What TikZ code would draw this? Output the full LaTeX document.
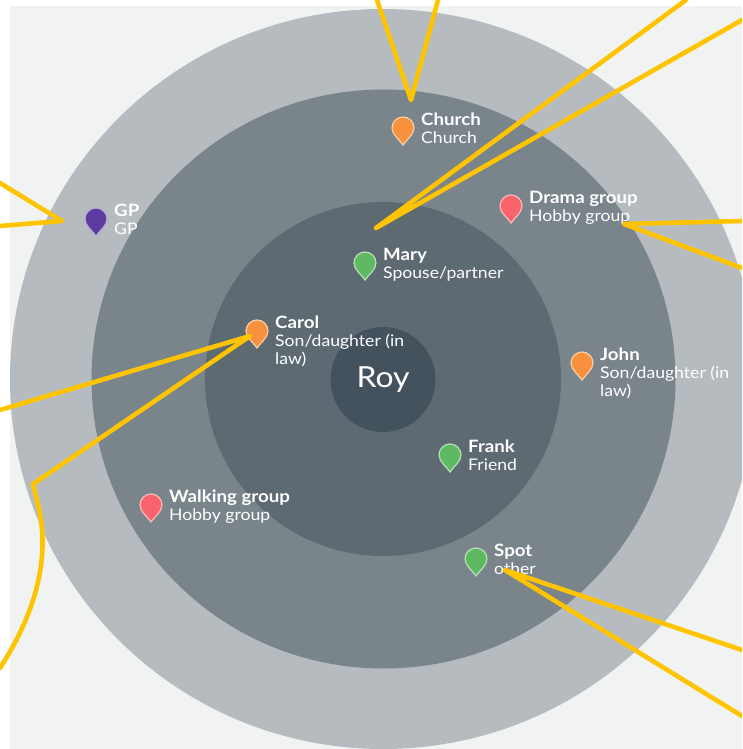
\documentclass[tikz,border=0pt]{standalone}
\usepackage{fontspec}
\setmainfont[FakeStretch=1.1]{Lato}
\definecolor{pagegrey}{HTML}{F1F3F3}
\definecolor{ringfour}{HTML}{B5BBBF}
\definecolor{ringthree}{HTML}{7A858B}
\definecolor{ringtwo}{HTML}{5E6A71}
\definecolor{ringone}{HTML}{44525E}
\definecolor{linkyellow}{HTML}{FFC400}
\definecolor{pinorange}{HTML}{F7913D}
\definecolor{pinred}{HTML}{F9636B}
\definecolor{pingreen}{HTML}{5FB962}
\definecolor{pinpurple}{HTML}{5F3B9F}
\tikzset{
	link/.style={draw=linkyellow,line width=4.6pt,line cap=round,line join=round},
	who/.style={anchor=north west,inner sep=0pt,text=white,align=left,font=\fontsize{16}{18}\selectfont},
	pics/pin/.style={code={
		\draw[fill=#1,draw=#1!45!white,line width=1.2pt] (0,16)
			.. controls (-3,11) and (-11,6) .. (-11,-1) arc (180:360:11)
			.. controls (11,6) and (3,11) .. (0,16) -- cycle;
	}}
}
\begin{document}
\begin{tikzpicture}[x=1pt,y=-1pt]
	\clip (0,0) rectangle (742,749);

	% page and rings
	\fill[white] (0,0) rectangle (742,749);
	\fill[pagegrey] (10,6) rectangle (742,749);
	\fill[ringfour] (383,379) ellipse (373 and 370);
	\fill[ringthree] (383.5,379) ellipse (292 and 289.5);
	\fill[ringtwo] (383,379) ellipse (178 and 177);

	% centre
	\node[circle,fill=ringone,inner sep=0pt,minimum size=105pt,text=white,font=\fontsize{29}{32}\selectfont]
		(roy) at (383,379.5) {Roy};

	% pins with their labels
	\foreach \x/\y/\id/\col/\name/\role in {
	403/129/church/pinorange/Church/Church,
	511/207/drama/pinred/Drama group/Hobby group,
	365/264/mary/pingreen/Mary/Spouse{/}partner,
	96/220/gp/pinpurple/GP/GP,
	257/332/carol/pinorange/Carol/{Son/daughter (in\\law)},
	582/364/john/pinorange/John/{Son/daughter (in\\law)},
	450/456/frank/pingreen/Frank/Friend,
	151/506/walking/pinred/Walking group/Hobby group,
	476/560/spot/pingreen/Spot/other}
	{
		\coordinate (pin\id) at (\x,\y);
		\pic at (pin\id) {pin=\col};
		\node[who] (label\id) at ([shift={(18,-16)}]pin\id) {\strut{\fontsize{17}{18}\selectfont\textbf{\name}}\\\role};
	}

	% ends of the yellow lines
	\coordinate (churchA) at (377,0);
	\coordinate (churchB) at (411,100);
	\coordinate (churchC) at (438,0);
	\coordinate (maryA) at (686,0);
	\coordinate (maryB) at (376,228);
	\coordinate (maryC) at (742,20);
	\coordinate (dramaA) at (742,221);
	\coordinate (dramaB) at (624,224);
	\coordinate (dramaC) at (742,268);
	\coordinate (gpA) at (0,183);
	\coordinate (gpB) at (62,221);
	\coordinate (gpC) at (0,226);
	\coordinate (carolA) at (0,410);
	\coordinate (carolB) at (250,336);
	\coordinate (carolC) at (33,484);
	\coordinate (carolD) at (0,668);
	\coordinate (spotA) at (742,650);
	\coordinate (spotB) at (505,570);
	\coordinate (spotC) at (742,716);

	% yellow lines
	\foreach \a/\b/\c in {churchA/churchB/churchC,maryA/maryB/maryC,dramaA/dramaB/dramaC,gpA/gpB/gpC,carolA/carolB/carolC,spotA/spotB/spotC}
		\draw[link] (\a) -- (\b) -- (\c);
	\draw[link] (carolC) -- (38,505) .. controls (48,545) and (44,600) .. (carolD);
\end{tikzpicture}
\end{document}
